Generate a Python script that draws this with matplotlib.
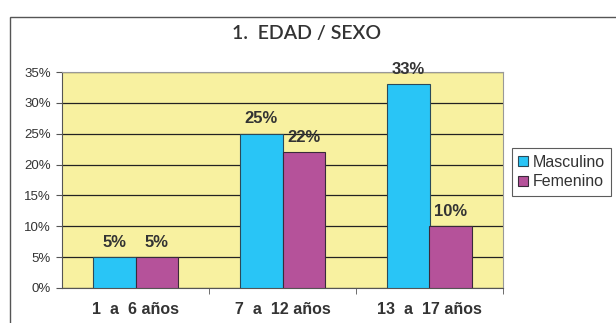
import matplotlib.pyplot as plt
import numpy as np
from matplotlib.patches import Rectangle

grupos = ['1  a  6 años', '7  a  12 años', '13  a  17 años']
masculino = [5, 25, 33]
femenino = [5, 22, 10]

azul = '#29C5F6'
morado = '#B5529A'
fondo = '#F8F1A0'
texto = '#333333'

plt.rcParams['font.family'] = ['Liberation Sans', 'DejaVu Sans']

fig = plt.figure(figsize=(6.16, 3.23), dpi=100)
fig.patch.set_facecolor('white')

# marco exterior del grafico
fig.add_artist(Rectangle((9.5 / 616, -0.1), 1.2, 1.1 - 17.5 / 323,
                         transform=fig.transFigure, fill=False,
                         edgecolor='#555555', linewidth=1.0))

ax = fig.add_axes([62 / 616, 35 / 323, 441 / 616, 216 / 323])
ax.set_facecolor(fondo)

x = np.arange(len(grupos))
ancho = 0.286
b1 = ax.bar(x - ancho / 2, masculino, ancho, color=azul, edgecolor='#2a4a5a',
            linewidth=0.8, label='Masculino', zorder=3)
b2 = ax.bar(x + ancho / 2, femenino, ancho, color=morado, edgecolor='#3a2a3a',
            linewidth=0.8, label='Femenino', zorder=3)

for barras in (b1, b2):
    for b in barras:
        v = b.get_height()
        ax.text(b.get_x() + b.get_width() / 2, v + 1.2, f'{v:.0f}%',
                ha='center', va='bottom', fontsize=12, fontweight='bold',
                color=texto)

ax.set_xlim(-0.5, 2.5)
ax.set_ylim(0, 35)
ax.set_yticks(np.arange(0, 36, 5))
ax.set_yticklabels([f'{v}%' for v in range(0, 36, 5)], fontsize=9.5, color=texto)
ax.yaxis.grid(True, color='#222222', linewidth=0.9, zorder=1)
ax.set_axisbelow(True)

ax.set_xticks(x)
ax.set_xticklabels(grupos, fontsize=11.5, fontweight='bold', color=texto)
ax.tick_params(axis='x', length=0, pad=10)
ax.set_xticks([0.5, 1.5, 2.5], minor=True)
ax.tick_params(axis='x', which='minor', length=4, color='#555555')
ax.tick_params(axis='y', length=4, color='#555555', pad=4)

for s in ['top', 'right']:
    ax.spines[s].set_color('#999999')
    ax.spines[s].set_linewidth(0.8)
for s in ['left', 'bottom']:
    ax.spines[s].set_color('#555555')
    ax.spines[s].set_linewidth(0.8)

fig.text(307 / 616, 1 - 33 / 323, '1.  EDAD / SEXO', ha='center', va='center',
         fontsize=14, fontweight='semibold', color=texto,
         family=['Lato', 'DejaVu Sans'])

leg = fig.legend(loc='center left', bbox_to_anchor=(512 / 616, 1 - 172 / 323),
                 borderaxespad=0, fontsize=11.5, frameon=True, fancybox=False,
                 handlelength=0.6, handleheight=0.6, handletextpad=0.3,
                 borderpad=0.4, labelspacing=0.3, edgecolor='#333333')
leg.get_frame().set_linewidth(0.8)
for t in leg.get_texts():
    t.set_color(texto)

fig.savefig('out.png', dpi=100)
